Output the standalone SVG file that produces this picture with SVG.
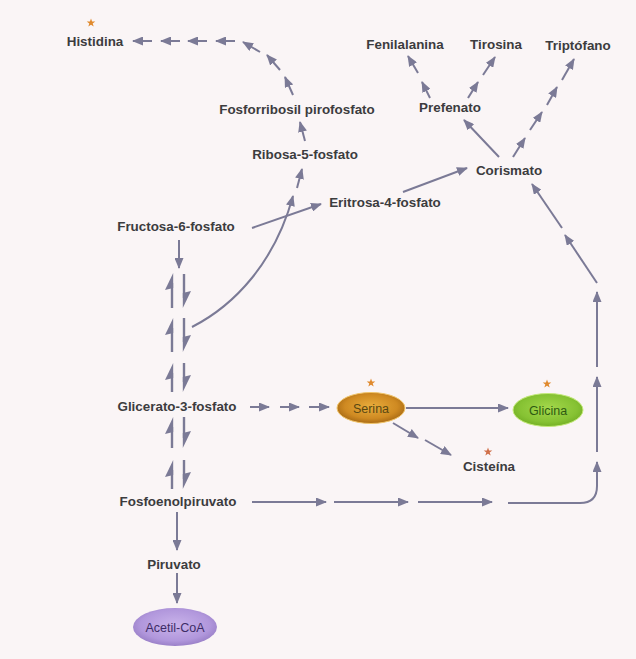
<svg xmlns="http://www.w3.org/2000/svg" width="636" height="659" viewBox="0 0 636 659">
<style>
.t{font-family:"Liberation Sans",Arial,sans-serif;font-weight:bold;font-size:13.4px;fill:#3c3c3e;text-anchor:middle}
.e{font-family:"Liberation Sans",Arial,sans-serif;font-size:12.5px;text-anchor:middle}
.c{stroke:#7b7a96;stroke-width:2;fill:none;marker-end:url(#ah)}
.h{stroke:#7b7a96;stroke-width:2.4;fill:none}
.hp{fill:#7b7a96}
.star{fill:#e08a2e}
</style>
<defs>
<marker id="ah" markerUnits="userSpaceOnUse" markerWidth="11" markerHeight="9" refX="10" refY="4.5" orient="auto">
<path d="M0,0 L11,4.5 L0,9 z" fill="#7b7a96"/>
</marker>
<radialGradient id="gs" cx="50%" cy="45%" r="55%">
<stop offset="0" stop-color="#e9ad3c"/><stop offset="0.7" stop-color="#cf8a22"/><stop offset="1" stop-color="#a86a14"/>
</radialGradient>
<radialGradient id="gg" cx="50%" cy="45%" r="55%">
<stop offset="0" stop-color="#a4d84c"/><stop offset="0.75" stop-color="#86c233"/><stop offset="1" stop-color="#74b025"/>
</radialGradient>
<radialGradient id="ga" cx="50%" cy="45%" r="55%">
<stop offset="0" stop-color="#c9b3ea"/><stop offset="0.75" stop-color="#b197dc"/><stop offset="1" stop-color="#9a80c8"/>
</radialGradient>
<polygon id="star" points="0,-4.5 1.1,-1.4 4.3,-1.4 1.7,0.5 2.7,3.6 0,1.7 -2.7,3.6 -1.7,0.5 -4.3,-1.4 -1.1,-1.4"/>
</defs>
<rect width="636" height="659" fill="#faf5f6"/>

<g id="connectors">
<!-- Histidina chain -->
<line class="c" x1="152" y1="41" x2="133" y2="41"/>
<line class="c" x1="180" y1="41" x2="161" y2="41"/>
<line class="c" x1="207" y1="41" x2="188" y2="41"/>
<line class="c" x1="235" y1="41" x2="216" y2="41"/>
<line class="c" x1="260" y1="52" x2="243" y2="42"/>
<line class="c" x1="280" y1="70" x2="267" y2="55"/>
<line class="c" x1="293" y1="95" x2="285" y2="77"/>
<line class="c" x1="305" y1="141" x2="300" y2="122"/>
<line class="c" x1="297" y1="188" x2="302" y2="169"/>
<path class="c" d="M192,327 C235,305 275,262 293,196"/>
<!-- Fructosa -> Eritrosa -> Corismato -->
<line class="c" x1="252" y1="228" x2="321" y2="204"/>
<line class="c" x1="403" y1="192" x2="467" y2="168"/>
<!-- Corismato -> Prefenato -->
<line class="c" x1="499" y1="157" x2="464" y2="120"/>
<!-- Prefenato -> Fenilalanina -->
<line class="c" x1="430" y1="98" x2="422" y2="82"/>
<line class="c" x1="418" y1="73" x2="408" y2="56"/>
<!-- Prefenato -> Tirosina -->
<line class="c" x1="468" y1="98" x2="478" y2="82"/>
<line class="c" x1="483" y1="75" x2="495" y2="57"/>
<!-- Corismato -> Triptofano -->
<line class="c" x1="513" y1="157" x2="525" y2="138"/>
<line class="c" x1="530" y1="130" x2="542" y2="112"/>
<line class="c" x1="547" y1="105" x2="557" y2="87"/>
<line class="c" x1="562" y1="80" x2="574" y2="59"/>
<!-- right column up to Corismato -->
<path class="c" d="M508,503 H580 Q597,503 597,486 V462"/>
<line class="c" x1="597" y1="452" x2="597" y2="377"/>
<line class="c" x1="597" y1="367" x2="597" y2="292"/>
<line class="c" x1="597" y1="283" x2="565" y2="235"/>
<line class="c" x1="562" y1="228" x2="532" y2="184"/>
<!-- Fosfoenolpiruvato -> -->
<line class="c" x1="252" y1="502" x2="326" y2="502"/>
<line class="c" x1="334" y1="502" x2="408" y2="502"/>
<line class="c" x1="418" y1="502" x2="492" y2="502"/>
<!-- Glicerato -> Serina -->
<line class="c" x1="250" y1="407" x2="269" y2="407"/>
<line class="c" x1="280" y1="407" x2="299" y2="407"/>
<line class="c" x1="309" y1="407" x2="329" y2="407"/>
<!-- Serina -> Glicina / Cisteina -->
<line class="c" x1="406" y1="408" x2="508" y2="408"/>
<line class="c" x1="393" y1="423" x2="418" y2="438"/>
<line class="c" x1="425" y1="440" x2="451" y2="455"/>
<!-- glycolysis column -->
<line class="c" x1="179" y1="240" x2="179" y2="268"/>
<line class="c" x1="177" y1="512" x2="177" y2="550"/>
<line class="c" x1="177" y1="573" x2="177" y2="603"/>
<g id="harpoons">
<line class="h" x1="172" y1="308" x2="172" y2="283"/><polygon class="hp" points="173.2,273 173.2,288 165,290"/>
<line class="h" x1="184" y1="274" x2="184" y2="298"/><polygon class="hp" points="182.8,308 182.8,293 191,291"/>
<line class="h" x1="172" y1="352" x2="172" y2="328"/><polygon class="hp" points="173.2,318 173.2,333 165,335"/>
<line class="h" x1="184" y1="318" x2="184" y2="342"/><polygon class="hp" points="182.8,352 182.8,337 191,335"/>
<line class="h" x1="172" y1="392" x2="172" y2="373"/><polygon class="hp" points="173.2,363 173.2,378 165,380"/>
<line class="h" x1="184" y1="363" x2="184" y2="382"/><polygon class="hp" points="182.8,392 182.8,377 191,375"/>
<line class="h" x1="172" y1="448" x2="172" y2="427"/><polygon class="hp" points="173.2,417 173.2,432 165,434"/>
<line class="h" x1="184" y1="417" x2="184" y2="438"/><polygon class="hp" points="182.8,448 182.8,433 191,431"/>
<line class="h" x1="172" y1="489" x2="172" y2="470"/><polygon class="hp" points="173.2,460 173.2,475 165,477"/>
<line class="h" x1="184" y1="460" x2="184" y2="479"/><polygon class="hp" points="182.8,489 182.8,474 191,472"/>
</g>
</g>

<g id="histidina"><use href="#star" class="star" x="91" y="23"/><text class="t" x="95" y="46">Histidina</text></g>
<g id="fenilalanina"><text class="t" x="405" y="49">Fenilalanina</text></g>
<g id="tirosina"><text class="t" x="496" y="49">Tirosina</text></g>
<g id="triptofano"><text class="t" x="578" y="50">Triptófano</text></g>
<g id="prefenato"><text class="t" x="450" y="112">Prefenato</text></g>
<g id="corismato"><text class="t" x="509" y="175">Corismato</text></g>
<g id="fosforribosil"><text class="t" x="297" y="114">Fosforribosil pirofosfato</text></g>
<g id="ribosa"><text class="t" x="305" y="159">Ribosa-5-fosfato</text></g>
<g id="eritrosa"><text class="t" x="385" y="207">Eritrosa-4-fosfato</text></g>
<g id="fructosa"><text class="t" x="176" y="231">Fructosa-6-fosfato</text></g>
<g id="glicerato"><text class="t" x="177" y="411">Glicerato-3-fosfato</text></g>
<g id="fosfoenolpiruvato"><text class="t" x="178" y="506">Fosfoenolpiruvato</text></g>
<g id="piruvato"><text class="t" x="174" y="569">Piruvato</text></g>
<g id="acetilcoa"><ellipse cx="175" cy="627" rx="42" ry="19" fill="url(#ga)"/><text class="e" x="175" y="632" fill="#3e2c66">Acetil-CoA</text></g>
<g id="serina"><use href="#star" class="star" x="371" y="383"/><ellipse cx="371" cy="408" rx="34" ry="15.5" fill="url(#gs)" stroke="#f0c46a" stroke-width="1"/><text class="e" x="371" y="413" fill="#5a4812">Serina</text></g>
<g id="glicina"><use href="#star" class="star" x="547" y="384"/><ellipse cx="548" cy="410" rx="35" ry="16.5" fill="url(#gg)" stroke="#c4ea7a" stroke-width="1"/><text class="e" x="548" y="415" fill="#2e5a12">Glicina</text></g>
<g id="cisteina"><use href="#star" x="488" y="452" fill="#d0704a"/><text class="t" x="489" y="471">Cisteína</text></g>
</svg>
